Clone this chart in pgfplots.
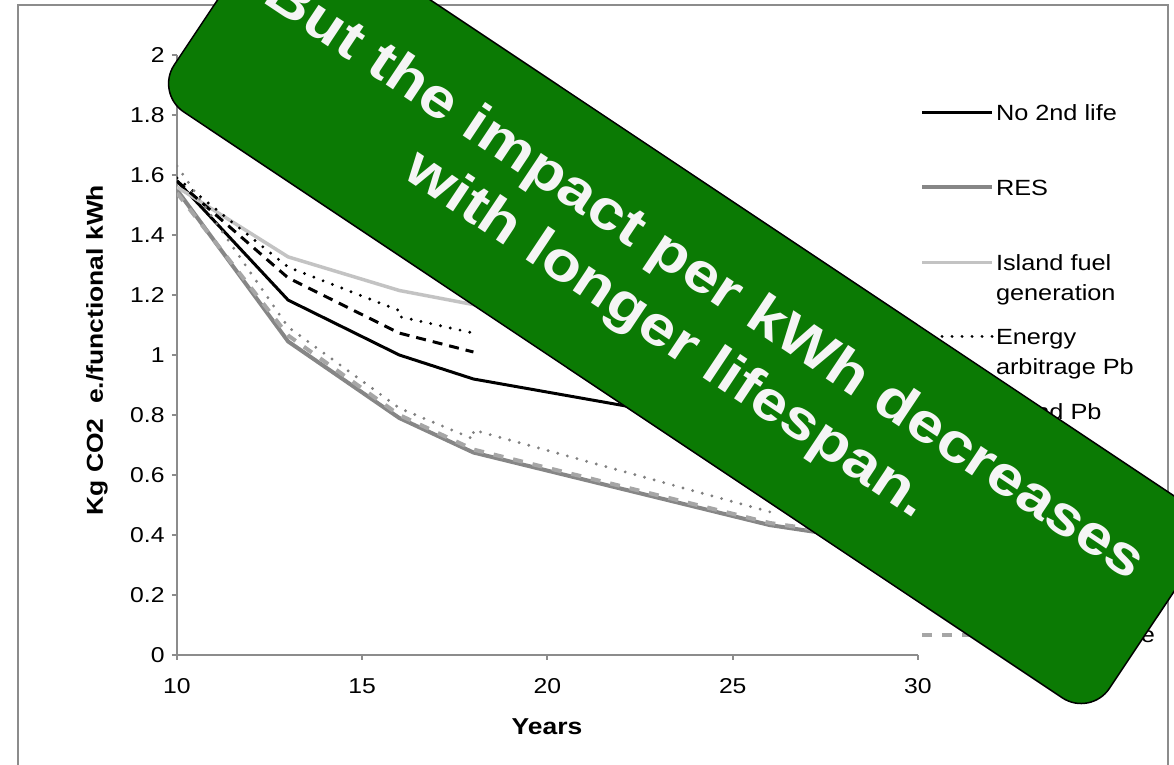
\documentclass[border=0pt]{standalone}
\usepackage{fontspec}
\setmainfont{Liberation Sans}[FakeStretch=1.15]
\usepackage{pgfplots}
\pgfplotsset{compat=1.18}
\definecolor{axgray}{HTML}{8C8C8C}
\definecolor{resgray}{HTML}{868686}
\definecolor{lightgr}{HTML}{C3C3C3}
\definecolor{dotgray}{HTML}{808080}
\definecolor{dashgr}{HTML}{A6A6A6}
\definecolor{boxgreen}{HTML}{0B7A04}
\definecolor{boxtext}{HTML}{F5F5F5}
\newcommand{\lent}[1]{\parbox[t]{88pt}{#1}}
\begin{document}
\begin{tikzpicture}
\useasboundingbox (0,0) rectangle (587pt,382.5pt);
\begin{scope}
\clip (0,0) rectangle (587pt,382.5pt);
\draw[axgray, line width=1pt] (9pt,-10pt) rectangle (584pt,380pt);
\end{scope}
\begin{axis}[
  at={(88.5pt,55pt)}, anchor=south west,
  width=370.5pt, height=300pt, scale only axis,
  xmin=10, xmax=30, ymin=0, ymax=2,
  axis lines=left,
  axis line style={-, axgray, line width=1pt},
  xtick={10,15,20,25,30},
  ytick={0,0.2,0.4,0.6,0.8,1,1.2,1.4,1.6,1.8,2},
  tick align=outside, major tick length=2.5pt,
  tick style={axgray, line width=1pt},
  /pgf/number format/assume math mode=true,
  tick label style={font=\fontsize{10.75pt}{12pt}\selectfont},
  yticklabel style={anchor=east, inner sep=0pt, xshift=-3.5pt},
  xticklabel style={anchor=north, inner sep=0pt, yshift=-9pt},
  every axis x label/.style={at={(axis description cs:0.4993,-0.12)}, anchor=center},
  every axis y label/.style={at={(axis description cs:-0.108,0.508)}, anchor=center, rotate=90},
  label style={font=\bfseries\fontsize{11.5pt}{13pt}\selectfont},
  xlabel={Years},
  ylabel={Kg CO2\ \ e./functional kWh},
  legend style={at={(axis description cs:1.0027,0.9233)}, anchor=north west,
    draw=none, fill=none, inner sep=0pt, outer sep=0pt,
    column sep=-1pt, row sep=24pt,
    font=\fontsize{11pt}{15pt}\selectfont,
    cells={anchor=base west, inner sep=0pt}},
  legend image code/.code={\draw[#1] (0pt,4pt) -- (35pt,4pt);},
]
\addplot[black, line width=1.5pt] coordinates {(10,1.58) (13,1.183) (16,1.0) (18,0.92) (26,0.745) (30,0.70)};
\addlegendentry{\lent{No 2nd life}}
\addplot[resgray, line width=2pt] coordinates {(10,1.55) (13,1.045) (16,0.79) (18,0.675) (26,0.433) (28,0.396)};
\addlegendentry{\lent{RES}}
\addplot[lightgr, line width=1.75pt] coordinates {(10,1.56) (13,1.327) (16,1.215) (18,1.168) (26,0.95)};
\addlegendentry{\lent{Island fuel\\generation}}
\addplot[black, line width=1.6pt, line cap=round, dash pattern=on 0pt off 5pt] coordinates {(10,1.59) (13,1.293) (16,1.148) (16,1.128) (18,1.073)};
\addlegendentry{\lent{Energy\\arbitrage Pb}}
\addplot[black, line width=1.5pt, dash pattern=on 5pt off 3.5pt] coordinates {(10,1.58) (13,1.257) (16,1.073) (18,1.01)};
\addlegendentry{\lent{Island Pb}}
\addplot[dotgray, line width=1.6pt, line cap=round, dash pattern=on 0pt off 5pt] coordinates {(10,1.63) (13,1.093) (16,0.823) (18,0.72) (18,0.75) (26,0.477)};
\addlegendentry{\lent{Energy\\arbitrage Li-ion}}
\addlegendimage{dotgray, line width=1.5pt, dash pattern=on 6pt off 2pt on 1.5pt off 2pt}
\addlegendentry{\lent{Island Li-ion}}
\addplot[dashgr, line width=2pt, dash pattern=on 5pt off 5pt] coordinates {(10,1.54) (13,1.065) (16,0.80) (18,0.685) (26,0.44) (28,0.405)};
\addlegendentry{\lent{Home storage}}
\end{axis}
\node[rotate=-33.7, fill=boxgreen, draw=black, line width=0.75pt, rounded corners=17pt,
  minimum width=562pt, minimum height=115pt, inner sep=0pt]
  at (343.4pt,227.9pt) {};
\node[rotate=-33.7, text=boxtext,
  font=\bfseries\fontsize{27.8pt}{34pt}\selectfont, align=center, inner sep=0pt]
  at (342.5pt,228.5pt) {But the impact per kWh decreases\\with longer lifespan.};
\end{tikzpicture}
\end{document}
